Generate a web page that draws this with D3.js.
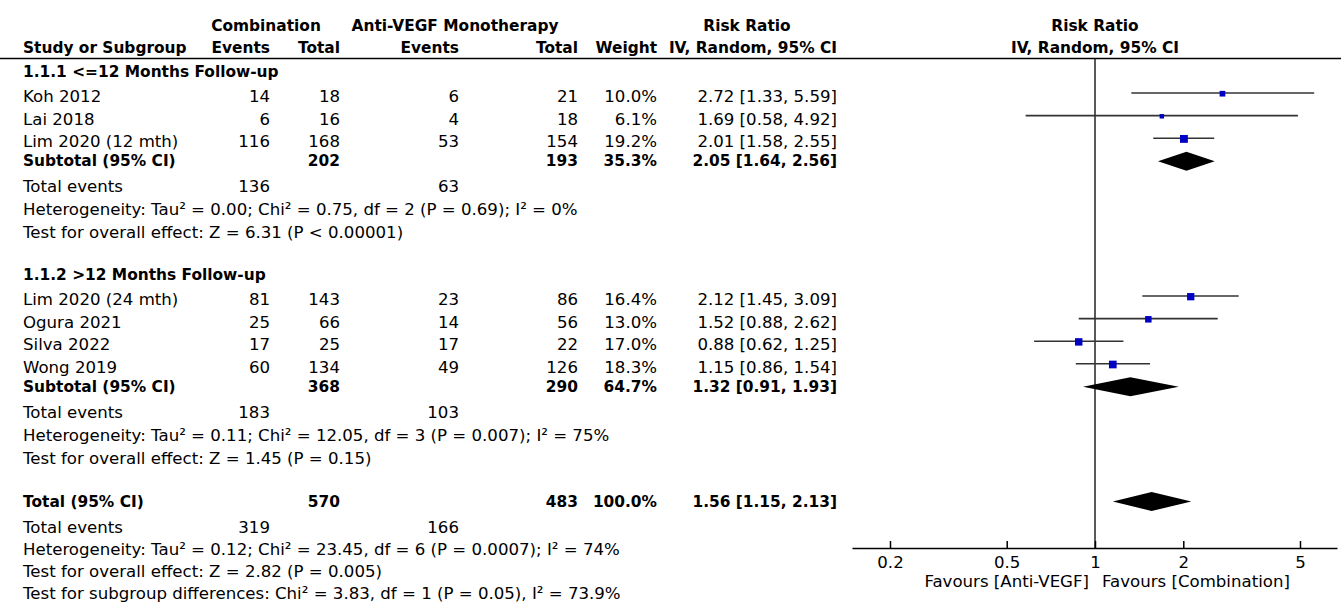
<!DOCTYPE html>
<html>
<head>
<meta charset="utf-8">
<script src="https://cdn.jsdelivr.net/npm/d3@7"></script>
<style>
  body { margin: 0; background: #fff; }
  text { font-family: "DejaVu Sans", sans-serif; font-size: 16.6px; fill: #000; }
  text.b { font-weight: bold; font-size: 15.4px; }
</style>
</head>
<body>
<svg id="chart" width="1341" height="604"></svg>
<script>
// ---- study-level data ----
const studies      = ["Koh 2012", "Lai 2018", "Lim 2020 (12 mth)", "Lim 2020 (24 mth)", "Ogura 2021", "Silva 2022", "Wong 2019"];
const subgroupOf   = [0, 0, 0, 1, 1, 1, 1];
const comboEvents  = [14, 6, 116, 81, 25, 17, 60];
const comboTotal   = [18, 16, 168, 143, 66, 25, 134];
const antiEvents   = [6, 4, 53, 23, 14, 17, 49];
const antiTotal    = [21, 18, 154, 86, 56, 22, 126];
const weights      = [10.0, 6.1, 19.2, 16.4, 13.0, 17.0, 18.3];
const riskRatio    = [2.72, 1.69, 2.01, 2.12, 1.52, 0.88, 1.15];
const ciLow        = [1.33, 0.58, 1.58, 1.45, 0.88, 0.62, 0.86];
const ciHigh       = [5.59, 4.92, 2.55, 3.09, 2.62, 1.25, 1.54];

// ---- subgroup summaries ----
const subgroupLabels   = ["1.1.1 <=12 Months Follow-up", "1.1.2 >12 Months Follow-up"];
const subComboTotal    = [202, 368];
const subAntiTotal     = [193, 290];
const subWeight        = [35.3, 64.7];
const subRiskRatio     = [2.05, 1.32];
const subLow           = [1.64, 0.91];
const subHigh          = [2.56, 1.93];
const subComboEvents   = [136, 183];
const subAntiEvents    = [63, 103];
const subHeterogeneity = [
  "Heterogeneity: Tau² = 0.00; Chi² = 0.75, df = 2 (P = 0.69); I² = 0%",
  "Heterogeneity: Tau² = 0.11; Chi² = 12.05, df = 3 (P = 0.007); I² = 75%"
];
const subEffect = [
  "Test for overall effect: Z = 6.31 (P < 0.00001)",
  "Test for overall effect: Z = 1.45 (P = 0.15)"
];

// ---- overall summary ----
const totalCombo = 570, totalAnti = 483, totalWeight = 100.0;
const totalRR = 1.56, totalLow = 1.15, totalHigh = 2.13;
const totalComboEvents = 319, totalAntiEvents = 166;
const totalNotes = [
  "Heterogeneity: Tau² = 0.12; Chi² = 23.45, df = 6 (P = 0.0007); I² = 74%",
  "Test for overall effect: Z = 2.82 (P = 0.005)",
  "Test for subgroup differences: Chi² = 3.83, df = 1 (P = 0.05), I² = 73.9%"
];

// ---- axis ----
const tickValues = [0.2, 0.5, 1, 2, 5];
const favourLeft = "Favours [Anti-VEGF]";
const favourRight = "Favours [Combination]";

// ---------------------------------------------------------------
const svg = d3.select("#chart");
const W = 1341;

// right-edge x of each table column
const col = { name: 23, cEv: 270, cTot: 340, aEv: 459, aTot: 578, wt: 657, rr: 837 };

// forest scale: 1 at the centre, 0.2..5 spanning the panel
const x = d3.scaleLog().domain([0.2, 5]).range([890, 1300]);
const axisLeft = 852, axisRight = 1337, axisY = 548, headerLineY = 58.5;

const fmt2 = d3.format(".2f");
const fmtW = d => d3.format(".1f")(d) + "%";
const ciText = (m, l, h) => `${fmt2(m)} [${fmt2(l)}, ${fmt2(h)}]`;

function txt(xp, yc, s, anchor = "start", bold = false) {
  svg.append("text")
    .attr("x", xp).attr("y", yc).attr("dy", "0.36em")
    .attr("text-anchor", anchor)
    .attr("class", bold ? "b" : null)
    .text(s);
}

// ---- headers ----
txt(266, 25, "Combination", "middle", true);
txt(455, 25, "Anti-VEGF Monotherapy", "middle", true);
txt(747, 25, "Risk Ratio", "middle", true);
txt(x(1), 25, "Risk Ratio", "middle", true);
txt(col.name, 47, "Study or Subgroup", "start", true);
txt(col.cEv, 47, "Events", "end", true);
txt(col.cTot, 47, "Total", "end", true);
txt(col.aEv, 47, "Events", "end", true);
txt(col.aTot, 47, "Total", "end", true);
txt(col.wt, 47, "Weight", "end", true);
txt(col.rr, 47, "IV, Random, 95% CI", "end", true);
txt(x(1), 47, "IV, Random, 95% CI", "middle", true);

svg.append("line").attr("x1", 0).attr("x2", W)
  .attr("y1", headerLineY).attr("y2", headerLineY)
  .attr("stroke", "#000").attr("stroke-width", 1.5);

// vertical line of no effect
svg.append("line").attr("x1", x(1)).attr("x2", x(1))
  .attr("y1", headerLineY).attr("y2", axisY)
  .attr("stroke", "#222").attr("stroke-width", 1.5);

// ---- row layout ----
const groupY = [71, 274];
const firstStudyOffset = 25, studyStep = 22.6;
const sqScale = 1.8;

function diamond(yc, lo, mid, hi) {
  const h = 9.5;
  svg.append("path")
    .attr("d", `M${x(lo)},${yc} L${x(mid)},${yc - h} L${x(hi)},${yc} L${x(mid)},${yc + h} Z`)
    .attr("fill", "#000");
}

subgroupLabels.forEach((label, g) => {
  const y = groupY[g];
  txt(col.name, y, label, "start", true);
  const idx = d3.range(studies.length).filter(i => subgroupOf[i] === g);
  idx.forEach((i, k) => {
    const yc = y + firstStudyOffset + k * studyStep;
    txt(col.name, yc, studies[i]);
    txt(col.cEv, yc, comboEvents[i], "end");
    txt(col.cTot, yc, comboTotal[i], "end");
    txt(col.aEv, yc, antiEvents[i], "end");
    txt(col.aTot, yc, antiTotal[i], "end");
    txt(col.wt, yc, fmtW(weights[i]), "end");
    txt(col.rr, yc, ciText(riskRatio[i], ciLow[i], ciHigh[i]), "end");
    const my = yc - 3;
    svg.append("line")
      .attr("x1", x(ciLow[i])).attr("x2", x(ciHigh[i]))
      .attr("y1", my).attr("y2", my)
      .attr("stroke", "#333").attr("stroke-width", 1.6);
    const s = sqScale * Math.sqrt(weights[i]);
    svg.append("rect")
      .attr("x", x(riskRatio[i]) - s / 2).attr("y", my + 0.7 - s / 2)
      .attr("width", s).attr("height", s)
      .attr("fill", "#0000c4");
  });
  const last = y + firstStudyOffset + (idx.length - 1) * studyStep;
  const ys = last + 19.5;
  txt(col.name, ys, "Subtotal (95% CI)", "start", true);
  txt(col.cTot, ys, subComboTotal[g], "end", true);
  txt(col.aTot, ys, subAntiTotal[g], "end", true);
  txt(col.wt, ys, fmtW(subWeight[g]), "end", true);
  txt(col.rr, ys, ciText(subRiskRatio[g], subLow[g], subHigh[g]), "end", true);
  diamond(ys + 0.5, subLow[g], subRiskRatio[g], subHigh[g]);
  const yt = ys + 25.5;
  txt(col.name, yt, "Total events");
  txt(col.cEv, yt, subComboEvents[g], "end");
  txt(col.aEv, yt, subAntiEvents[g], "end");
  txt(col.name, yt + 23, subHeterogeneity[g]);
  txt(col.name, yt + 46, subEffect[g]);
});

// ---- overall ----
const yT = 501;
txt(col.name, yT, "Total (95% CI)", "start", true);
txt(col.cTot, yT, totalCombo, "end", true);
txt(col.aTot, yT, totalAnti, "end", true);
txt(col.wt, yT, fmtW(totalWeight), "end", true);
txt(col.rr, yT, ciText(totalRR, totalLow, totalHigh), "end", true);
diamond(yT + 0.5, totalLow, totalRR, totalHigh);
txt(col.name, yT + 26, "Total events");
txt(col.cEv, yT + 26, totalComboEvents, "end");
txt(col.aEv, yT + 26, totalAntiEvents, "end");
totalNotes.forEach((s, k) => txt(col.name, yT + 48.5 + k * 22, s));

// ---- axis ----
const xAxisScale = x.copy()
  .domain([x.invert(axisLeft), x.invert(axisRight)])
  .range([axisLeft, axisRight]);
const axis = d3.axisBottom(xAxisScale)
  .tickValues(tickValues)
  .tickFormat(d => String(d))
  .tickSizeInner(-7).tickSizeOuter(0).tickPadding(8);
const ag = svg.append("g").attr("transform", `translate(0,${axisY})`).call(axis);
ag.select(".domain").attr("stroke", "#000").attr("stroke-width", 1.5);
ag.selectAll(".tick line").attr("stroke", "#000").attr("stroke-width", 1.5);
ag.selectAll(".tick text")
  .attr("font-family", "DejaVu Sans, sans-serif").attr("font-size", 16.6).attr("fill", "#000");

txt(x(1) - 6, 581, favourLeft, "end");
txt(x(1) + 7, 581, favourRight, "start");
</script>
</body>
</html>
